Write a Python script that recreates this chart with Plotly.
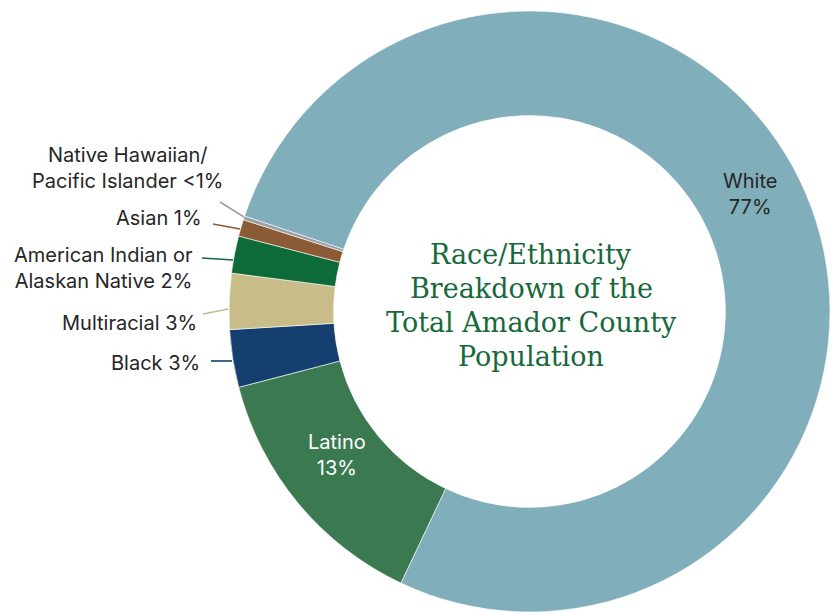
import plotly.graph_objects as go

W, H = 837, 612

# ---- data ----
categories = ["White", "Latino", "Black", "Multiracial",
              "American Indian or Alaskan Native", "Asian",
              "Native Hawaiian/Pacific Islander"]
values = [76.9, 13.9, 3.1, 3.0, 2.0, 0.9, 0.2]
colors = ["#81aebb", "#3b7a50", "#143f6e", "#c8bc88", "#0e6a39", "#8a5b35", "#9a9fa5"]
label_texts = ["White<br>77%", "Latino<br>13%", "Black 3%", "Multiracial 3%",
               "American Indian or<br>Alaskan Native 2%", "Asian 1%",
               "Native Hawaiian/<br>Pacific Islander <1%"]
title_lines = ["Race/Ethnicity", "Breakdown of the", "Total Amador County", "Population"]

# ---- layout helpers (pixel positions of annotations) ----
def px(x):
    return x / W

def py(y):
    return 1 - y / H

fig = go.Figure(go.Pie(
    labels=categories, values=values, sort=False, direction="clockwise",
    rotation=288.5, hole=0.652,
    marker=dict(colors=colors, line=dict(color="white", width=0.6)),
    textinfo="none", hoverinfo="label+percent", showlegend=False,
    domain=dict(x=[228 / W, 831 / W], y=[0, 601 / H]),
))

LBL_FONT = dict(family="Inter, Roboto, sans-serif", size=20, color="#262626")

# label anchor positions (pixels): (x, y, xanchor, color)
label_pos = [
    (750, 194, "center", "#262626"),
    (337, 455, "center", "#ffffff"),
    (202, 363, "right", "#262626"),
    (199, 323, "right", "#262626"),
    (195, 268, "right", "#262626"),
    (204, 218, "right", "#262626"),
    (128, 168, "center", "#262626"),
]
# leader lines (pixels) for the small slices
leaders = {
    2: (211, 361, 232, 361),
    3: (203, 314, 228, 309),
    4: (202, 258, 233, 260),
    5: (213, 224, 240, 229),
    6: (220, 202, 244, 217),
}

annotations = []
for i, txt in enumerate(label_texts):
    x, y, xa, c = label_pos[i]
    annotations.append(dict(
        x=px(x), y=py(y), xref="paper", yref="paper", text=txt, showarrow=False,
        xanchor=xa, yanchor="middle", align=xa,
        font=dict(LBL_FONT, color=c),
    ))

title_y = [254, 288, 322, 356]
for t, y in zip(title_lines, title_y):
    annotations.append(dict(
        x=px(531), y=py(y), xref="paper", yref="paper", text=t, showarrow=False,
        xanchor="center", yanchor="middle",
        font=dict(family="DejaVu Serif, serif", size=27, color="#17693a"),
    ))

shapes = []
for i, (x0, y0, x1, y1) in leaders.items():
    shapes.append(dict(type="line", xref="paper", yref="paper",
                       x0=px(x0), y0=py(y0), x1=px(x1), y1=py(y1),
                       line=dict(color=colors[i], width=1.6)))

fig.update_layout(
    width=W, height=H, margin=dict(l=0, r=0, t=0, b=0),
    paper_bgcolor="white", plot_bgcolor="white",
    annotations=annotations, shapes=shapes,
)

fig.write_html("out.html")
